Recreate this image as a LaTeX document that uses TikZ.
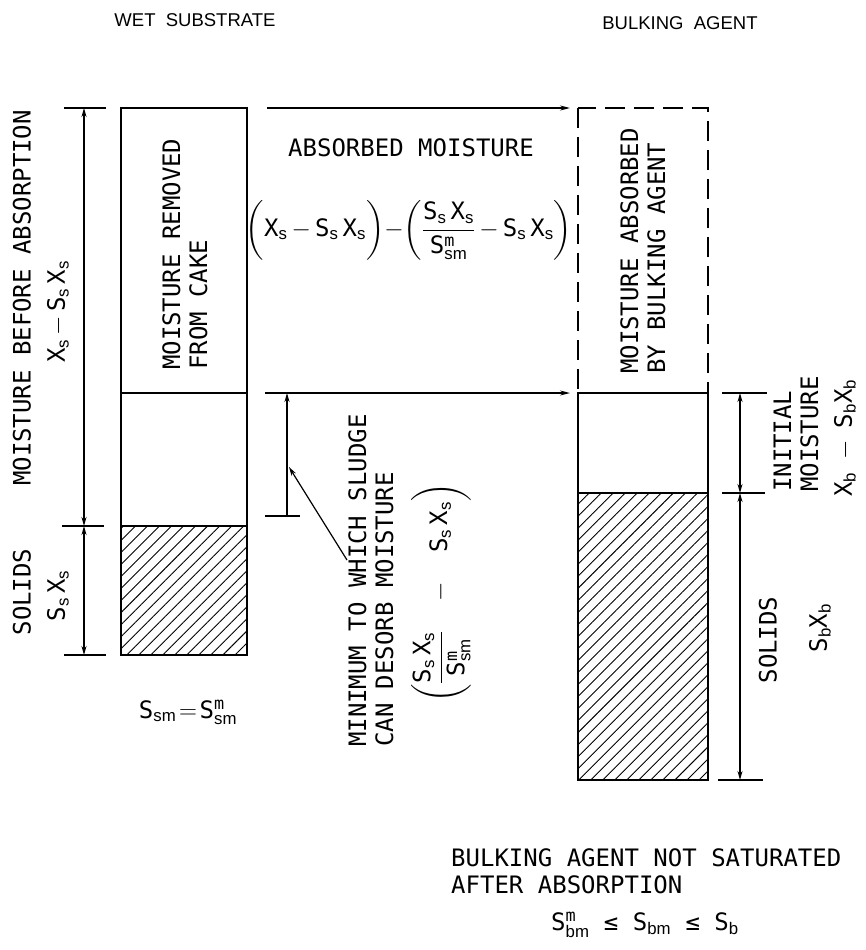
\documentclass[tikz,border=0pt]{standalone}
\usepackage{amsmath}
\usepackage{fontspec}
\setmainfont{DejaVu Sans Mono}
\setsansfont{Liberation Sans}
\usetikzlibrary{arrows.meta, patterns.meta, positioning}

\newcommand{\vb}[2]{\mathrm{#1}_{\mathsf{#2}}}
\newcommand{\vbm}[2]{\mathrm{#1}^{\mathrm{m}}_{\mathsf{#2}}}

\begin{document}
\begin{tikzpicture}[
  x=1pt, y=-1pt,
  box/.style={draw, line width=2.2pt},
  hatch/.style={pattern={Lines[angle=45, distance=8.5pt, line width=0.9pt]}},
  dashbox/.style={draw, line width=2.4pt, dash pattern=on 20pt off 9pt},
  tick/.style={line width=1.4pt},
  dimarr/.style={{Stealth[length=9pt, width=5pt]}-{Stealth[length=9pt, width=5pt]},
    line width=1.3pt},
  uparr/.style={{Stealth[length=9pt, width=5pt]}-, line width=1.3pt},
  flowarr/.style={-{Stealth[length=10pt, width=5pt]}, line width=1.4pt},
  lbl/.style={font=\fontsize{24}{27}\selectfont, inner sep=0pt, align=left},
  vlbl/.style={lbl, rotate=90},
  head/.style={font=\sffamily\fontsize{18.5}{20}\selectfont, inner sep=0pt}
]

\useasboundingbox (0,0) rectangle (865,950);

%% ═══════════════════════════════════════════════
%% Headers
%% ═══════════════════════════════════════════════
\node[head] (wethead) at (195,20) {WET\ \ SUBSTRATE};
\node[head] (bulkhead) at (680,23) {BULKING\ \ AGENT};

%% ═══════════════════════════════════════════════
%% Wet substrate column
%% ═══════════════════════════════════════════════
\fill[hatch] (121,526) rectangle (247,655);
\draw[box] (121,108) rectangle (247,655);
\draw[box] (121,393) -- (247,393);
\draw[box] (121,526) -- (247,526);

\node[vlbl, anchor=west] (removed) at (185,370)
  {MOISTURE REMOVED\\FROM CAKE};
\node[lbl] (sateq) at (188,712)
  {$\vb{S}{sm}\!=\!\vbm{S}{sm}$};

%% dimension line, left
\coordinate (ldT) at (84,108);
\coordinate (ldM) at (84,526);
\coordinate (ldB) at (84,655);
\draw[tick] (64,108) -- (106,108);
\draw[tick] (62,526) -- (104,526);
\draw[tick] (64,655) -- (106,655);
\draw[dimarr] (ldT) -- (ldM);
\draw[dimarr] (ldM) -- (ldB);

\node[vlbl] (mbefore) at (22,298) {MOISTURE BEFORE ABSORPTION};
\node[vlbl] (mbeforeq) at (58,312) {$\vb{X}{s}\,{-}\,\vb{S}{s}\,\vb{X}{s}$};
\node[vlbl] (lsolids) at (22,592) {SOLIDS};
\node[vlbl] (lsolidsq) at (58,596) {$\vb{S}{s}\,\vb{X}{s}$};

%% ═══════════════════════════════════════════════
%% Middle: absorbed moisture
%% ═══════════════════════════════════════════════
\coordinate (topS) at (267,108);
\coordinate (topE) at (570,108);
\coordinate (midS) at (265,393);
\coordinate (midE) at (570,393);
\draw[flowarr] (topS) -- (topE);
\draw[flowarr] (midS) -- (midE);

\node[lbl] (absorbed) at (411,148) {ABSORBED MOISTURE};
\node[lbl] (absorbedq) at (409,230)
  {$\left(\vphantom{\dfrac{\vb{S}{s}}{\vbm{S}{sm}}}\vb{X}{s}\,{-}\,\vb{S}{s}\,\vb{X}{s}\right)\!{-}\!
    \left(\dfrac{\vb{S}{s}\,\vb{X}{s}}{\vbm{S}{sm}}\,{-}\,\vb{S}{s}\,\vb{X}{s}\right)$};

%% dimension line, minimum moisture
\coordinate (mdT) at (287,393);
\coordinate (mdB) at (287,516);
\coordinate (mdP) at (289,467);
\draw[tick] (265,516) -- (300,516);
\draw[uparr] (mdT) -- (mdB);

\node[vlbl, anchor=west] (minimum) at (371,747)
  {MINIMUM TO WHICH SLUDGE\\CAN DESORB MOISTURE};
\node[vlbl] (minimumq) at (441,593)
  {$\left(\dfrac{\vb{S}{s}\,\vb{X}{s}}{\vbm{S}{sm}}\quad-\quad\vb{S}{s}\,\vb{X}{s}\right)$};
\coordinate (leadS) at (347,560);
\draw[-{Stealth[length=9pt, width=5pt]}, line width=1.2pt] (leadS) -- (mdP);

%% ═══════════════════════════════════════════════
%% Bulking agent column
%% ═══════════════════════════════════════════════
\draw[dashbox] (578,108) rectangle (708,393);
\fill[hatch] (578,493) rectangle (708,780);
\draw[box] (578,393) rectangle (708,780);
\draw[box] (578,493) -- (708,493);

\node[vlbl, anchor=west] (mabsorbed) at (643,374)
  {MOISTURE ABSORBED\\BY BULKING AGENT};

%% dimension line, right
\coordinate (rdT) at (740,393);
\coordinate (rdM) at (740,493);
\coordinate (rdB) at (740,780);
\draw[tick] (722,393) -- (767,393);
\draw[tick] (722,493) -- (765,493);
\draw[tick] (718,780) -- (763,780);
\draw[dimarr] (rdT) -- (rdM);
\draw[dimarr] (rdM) -- (rdB);

\node[vlbl, anchor=west] (initial) at (796,492) {INITIAL\\MOISTURE};
\node[vlbl] (initialq) at (845,438) {$\vb{X}{b}\;-\;\vb{S}{b}\vb{X}{b}$};
\node[vlbl] (rsolids) at (768,640) {SOLIDS};
\node[vlbl] (rsolidsq) at (820,628) {$\vb{S}{b}\vb{X}{b}$};

%% ═══════════════════════════════════════════════
%% Note below
%% ═══════════════════════════════════════════════
\node[lbl, anchor=west] (note) at (451,871)
  {BULKING AGENT NOT SATURATED\\AFTER ABSORPTION};
\node[lbl] (noteq) at (645,925)
  {$\vbm{S}{bm}$ ≤ $\vb{S}{bm}$ ≤ $\vb{S}{b}$};

\end{tikzpicture}
\end{document}
